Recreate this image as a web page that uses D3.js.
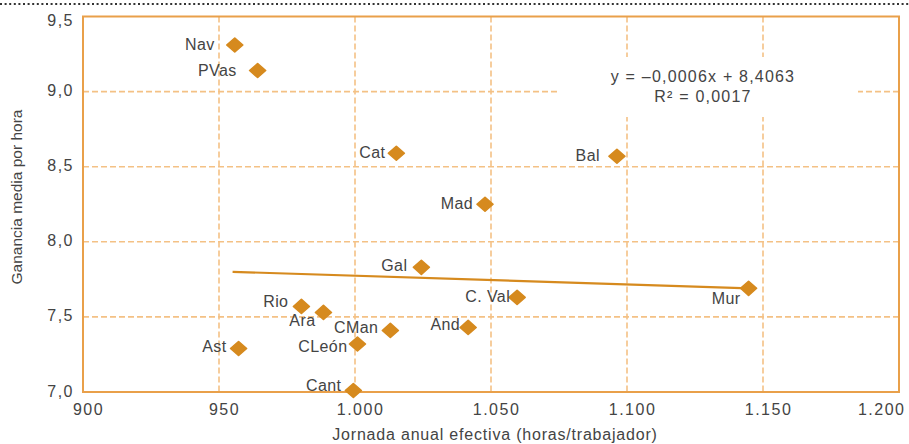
<!DOCTYPE html>
<html>
<head>
<meta charset="utf-8">
<script src="https://cdn.jsdelivr.net/npm/d3@7/dist/d3.min.js"></script>
<style>
  html, body { margin: 0; padding: 0; background: #fff; }
  svg { display: block; }
  text { font-family: "Liberation Sans", Arial, Helvetica, sans-serif; fill: #444; }
</style>
</head>
<body>
<svg id="chart" width="909" height="444"></svg>
<script>
// ---- data ----
const regions = ["Nav", "PVas", "Cat", "Bal", "Mad", "Gal", "C. Val", "Mur", "Rio", "Ara", "CMan", "And", "CLeón", "Ast", "Cant"];
const hours   = [955.8, 964.2, 1015.2, 1096.3, 1047.8, 1024.4, 1059.6, 1144.7, 980.3, 988.4, 1013.0, 1041.6, 1000.9, 957.2, 999.4];
const wage    = [9.31, 9.14, 8.59, 8.57, 8.25, 7.83, 7.63, 7.69, 7.57, 7.53, 7.41, 7.43, 7.32, 7.29, 7.01];
const xTicks  = [900, 950, 1000, 1050, 1100, 1150, 1200];
const xTickLabels = ["900", "950", "1.000", "1.050", "1.100", "1.150", "1.200"];
const yTicks  = [7.0, 7.5, 8.0, 8.5, 9.0, 9.5];
const yTickLabels = ["7,0", "7,5", "8,0", "8,5", "9,0", "9,5"];
const trendX  = [955, 1145];
const trendY  = [7.80, 7.69];
const equationLines = ["y = \u20130,0006x + 8,4063", "R\u00B2 = 0,0017"];
const xTitle = "Jornada anual efectiva (horas/trabajador)";
const yTitle = "Ganancia media por hora";

// label placement (style only): [dx, dy, anchor]
const labelPlace = {
  "Nav": [-20, 5, "end"], "PVas": [-21, 5, "end"], "Cat": [-11, 5, "end"],
  "Bal": [-17, 5, "end"], "Mad": [-12, 5, "end"], "Gal": [-14, 4, "end"],
  "C. Val": [-7, 5, "end"], "Mur": [-8, 16, "end"], "Rio": [-13, 1, "end"],
  "Ara": [-8, 14, "end"], "CMan": [-12, 3, "end"], "And": [-8, 3, "end"],
  "CLeón": [-10, 8, "end"], "Ast": [-12, 4, "end"], "Cant": [-12, 1, "end"]
};

const orange = "#d68a1e";
const frameCol = "#e9a04a";
const gridCol = "#f4c185";

const svg = d3.select("#chart");
const x = d3.scaleLinear().domain([900, 1200]).range([83, 899]);
const y = d3.scaleLinear().domain([7, 9.5]).range([392, 16.5]);

// top dotted rule
svg.append("line").attr("x1", 0).attr("x2", 909).attr("y1", 4).attr("y2", 4)
  .attr("stroke", "#333").attr("stroke-width", 2).attr("stroke-dasharray", "2,2.6");

// gridlines
svg.append("g").selectAll("line").data(xTicks.slice(1, -1)).join("line")
  .attr("x1", d => x(d)).attr("x2", d => x(d)).attr("y1", y(9.5)).attr("y2", y(7))
  .attr("stroke", gridCol).attr("stroke-width", 1.6).attr("stroke-dasharray", "6,3");
svg.append("g").selectAll("line").data(yTicks.slice(1, -1)).join("line")
  .attr("x1", x(900)).attr("x2", x(1200)).attr("y1", d => y(d)).attr("y2", d => y(d))
  .attr("stroke", gridCol).attr("stroke-width", 1.6).attr("stroke-dasharray", "6,3");

// frame
svg.append("rect").attr("x", x(900)).attr("y", y(9.5))
  .attr("width", x(1200) - x(900)).attr("height", y(7) - y(9.5))
  .attr("fill", "none").attr("stroke", frameCol).attr("stroke-width", 2);

// equation box
svg.append("rect").attr("x", 557).attr("y", 57).attr("width", 301).attr("height", 60).attr("fill", "#fff");
svg.append("g").selectAll("text").data(equationLines).join("text")
  .attr("x", 703).attr("y", (d, i) => 82 + i * 20).attr("text-anchor", "middle")
  .attr("font-size", 16).attr("letter-spacing", "1.2px").text(d => d);

// trend line
svg.append("line")
  .attr("x1", x(trendX[0])).attr("y1", y(trendY[0]))
  .attr("x2", x(trendX[1])).attr("y2", y(trendY[1]))
  .attr("stroke", orange).attr("stroke-width", 2.2);

// axis ticks (labels)
const xAxis = d3.axisBottom(x).tickValues(xTicks).tickSize(0).tickFormat((d, i) => xTickLabels[i]);
const gx = svg.append("g").attr("transform", `translate(0,${y(7)})`).call(xAxis);
gx.select(".domain").remove();
gx.selectAll("text").attr("font-size", 16).attr("fill", "#444")
  .attr("font-family", "Liberation Sans, Arial, sans-serif")
  .attr("letter-spacing", "1.5px")
  .attr("dy", 0).attr("y", 23)
  .attr("dx", (d, i) => i === xTicks.length - 1 ? 6 : 5)
  .attr("text-anchor", (d, i) => i === xTicks.length - 1 ? "end" : "middle");

const yAxis = d3.axisLeft(y).tickValues(yTicks).tickSize(0).tickFormat((d, i) => yTickLabels[i]);
const gy = svg.append("g").attr("transform", `translate(${x(900)},0)`).call(yAxis);
gy.select(".domain").remove();
gy.selectAll("text").attr("font-size", 16).attr("fill", "#444")
  .attr("font-family", "Liberation Sans, Arial, sans-serif")
  .attr("letter-spacing", "1.5px")
  .attr("x", -9).attr("dy", (d) => d === 9.5 ? "0.55em" : "0.25em");

// points
const sym = d3.symbol().type(d3.symbolSquare).size(110);
svg.append("g").selectAll("path").data(regions).join("path")
  .attr("d", sym)
  .attr("transform", (d, i) => `translate(${x(hours[i])},${y(wage[i])}) scale(1.08,0.95) rotate(45)`)
  .attr("fill", orange).attr("stroke", orange).attr("stroke-width", 1.5).attr("stroke-linejoin", "round");

// point labels
svg.append("g").selectAll("text").data(regions).join("text")
  .attr("x", (d, i) => x(hours[i]) + labelPlace[d][0])
  .attr("y", (d, i) => y(wage[i]) + labelPlace[d][1])
  .attr("text-anchor", d => labelPlace[d][2])
  .attr("font-size", 16).attr("letter-spacing", "0.4px").text(d => d);

// axis titles
svg.append("text").attr("x", 495).attr("y", 440).attr("text-anchor", "middle")
  .attr("font-size", 16).attr("letter-spacing", "0.8px").attr("fill", "#555").text(xTitle);
svg.append("text").attr("transform", "translate(22,197) rotate(-90)").attr("text-anchor", "middle")
  .attr("font-size", 15.5).attr("fill", "#555").text(yTitle);
</script>
</body>
</html>
